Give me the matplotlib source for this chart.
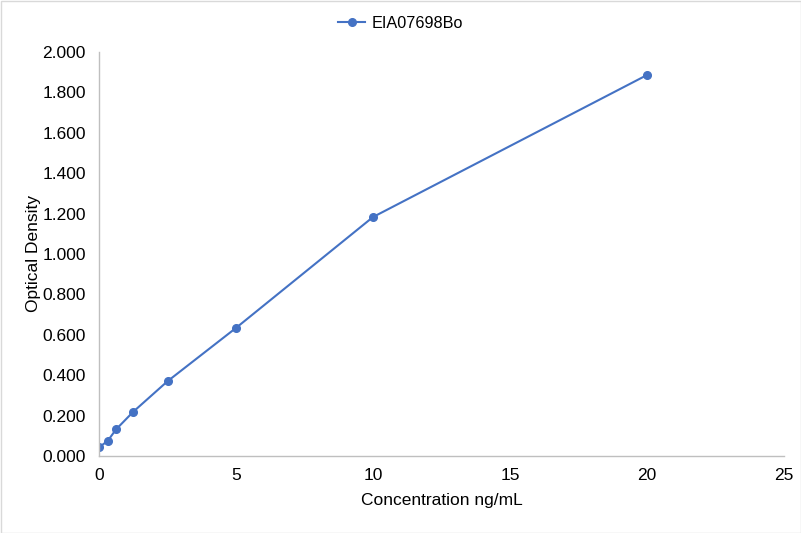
import matplotlib
matplotlib.use("Agg")
import matplotlib.pyplot as plt
from matplotlib.patches import Rectangle

plt.rcParams['font.family'] = ['Liberation Sans', 'DejaVu Sans']

conc = [0, 0.3125, 0.625, 1.25, 2.5, 5, 10, 20]
od = [0.043, 0.074, 0.132, 0.219, 0.370, 0.634, 1.183, 1.886]
series_name = "EIA07698Bo"
x_ticks = [0, 5, 10, 15, 20, 25]
y_ticks = [0.0, 0.2, 0.4, 0.6, 0.8, 1.0, 1.2, 1.4, 1.6, 1.8, 2.0]

W, H = 801, 533
FS = 12.5
fig = plt.figure(figsize=(W/100, H/100), dpi=100)
fig.patches.append(Rectangle((0.5/W, 0.5/H), 1-1/W, 1-1/H, transform=fig.transFigure,
                             fill=False, edgecolor='#d9d9d9', linewidth=1))
ax = fig.add_axes([99/W, (H-456)/H, (784-99)/W, (456-52)/H])
color = '#4472C4'
line, = ax.plot(conc, od, color=color, linewidth=1.5, marker='o', markersize=5.5, label=series_name)
ax.set_xlim(0, 25)
ax.set_ylim(0, 2.0)
ax.set_xticks(x_ticks)
ax.set_yticks(y_ticks)
ax.set_yticklabels([f"{v:.3f}" for v in y_ticks])
for s in ['top', 'right']:
    ax.spines[s].set_visible(False)
for s in ['left', 'bottom']:
    ax.spines[s].set_color('#bfbfbf')
    ax.spines[s].set_linewidth(1)
ax.tick_params(axis='both', length=0, labelsize=FS, colors='#000000')
ax.tick_params(axis='y', pad=9.5)
ax.tick_params(axis='x', pad=9)
ax.set_xlabel("Concentration ng/mL", fontsize=FS, labelpad=7)
ax.set_ylabel("Optical Density", fontsize=FS, labelpad=1)
fig.legend(handles=[line], loc='center', bbox_to_anchor=(0.5, 1 - 23.5/H), frameon=False, fontsize=11.7,
           handlelength=1.7, handletextpad=0.4)
fig.savefig("out.png", dpi=100)
